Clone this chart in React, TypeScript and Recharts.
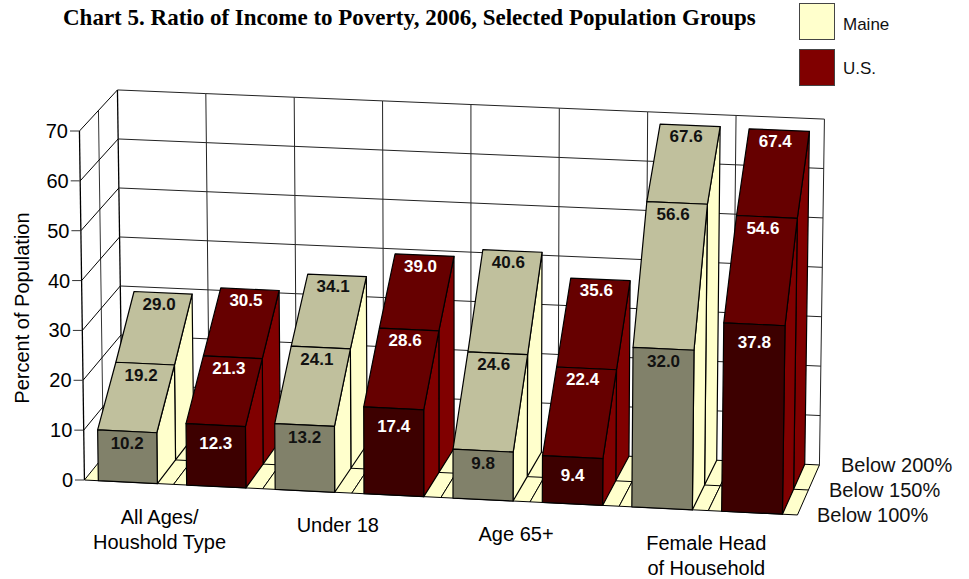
import { BarChart, Bar, XAxis, YAxis, Legend } from 'recharts';

const cells = ['Maine All', 'US All', 'Maine 18', 'US 18', 'Maine 65', 'US 65', 'Maine FHH', 'US FHH'];
const below100 = [10.2, 12.3, 13.2, 17.4, 9.8, 9.4, 32.0, 37.8];
const below150 = [19.2, 21.3, 24.1, 28.6, 24.6, 22.4, 56.6, 54.6];
const below200 = [29.0, 30.5, 34.1, 39.0, 40.6, 35.6, 67.6, 67.4];
const wallTop = [70, 70, 70, 70, 70, 70, 70, 70];
const yTicks = [0, 10, 20, 30, 40, 50, 60, 70];
const groupLines = [['All Ages/', 'Houshold Type'], ['Under 18'], ['Age 65+'], ['Female Head', 'of Household']];
const depthLabels = ['Below 100%', 'Below 150%', 'Below 200%'];
const states = ['Maine', 'U.S.'];

const data = cells.map((cell, i) => ({
    cell,
    wall: wallTop[i],
    below100: below100[i],
    below150: below150[i],
    below200: below200[i],
}));

const FONT = '"Liberation Sans", Arial, sans-serif';
const LEFT = 84;
const RIGHT = 797;
const BASE = 480;
const BAND = (RIGHT - LEFT) / cells.length;

const maineColors = { front: '#81816A', ramp: '#C0C09D', side: '#FFFFCC', text: '#111' };
const usColors = { front: '#3D0000', ramp: '#660000', side: '#800000', text: '#fff' };
const colorsFor = (i: number) => (i % 2 === 0 ? maineColors : usColors);

// oblique view: x on the front floor edge, d rows back, h pixels above the floor
function proj(x: number, d: number, h: number): [number, number] {
    const f = (x - LEFT) / (RIGHT - LEFT);
    const px = x + d * (19 - 8 * f) + (f - 0.5) * 0.0286 * h;
    const py = BASE + 0.049 * (x - LEFT) - d * (23.5 + 1.5 * f) - h * (1 - d * (0.0085 - 0.004 * f));
    return [px, py];
}

// the source's bars sit a little left of the band centre mid-chart and widen to the right
function faceEdges(x: number, width: number): [number, number] {
    const f = (x - LEFT) / (RIGHT - LEFT);
    const bow = 8 * f * (1 - f);
    return [x - 0.5 - bow, x + width - 1.5 + 2 * f - bow];
}

const pts = (list: [number, number][]) => list.map((p) => p.join(',')).join(' ');

function Seg({ a, b, width = 1, color = '#000' }: any) {
    return <line x1={a[0]} y1={a[1]} x2={b[0]} y2={b[1]} stroke={color} strokeWidth={width} />;
}

// one cell of floor and back wall per band, side wall with the first band
function WallCell(props: any) {
    const { x, width, height, index } = props;
    const x0 = x - (BAND - width) / 2;
    const x1 = x0 + BAND;
    const unit = height / 70;
    return (
        <g>
            <polygon
                points={pts([proj(x0, 0, 0), proj(x1, 0, 0), proj(x1, 2, 0), proj(x0, 2, 0)])}
                fill="#FFFFCC"
                stroke="#000"
                strokeWidth={1}
            />
            <Seg a={proj(x0, 1, 0)} b={proj(x1, 1, 0)} />
            <Seg a={proj(x1, 2, 0)} b={proj(x1, 2, height)} color="#222" />
            {index === 0 && <Seg a={proj(x0, 2, 0)} b={proj(x0, 2, height)} width={1.3} />}
            {yTicks.slice(1).map((t) => (
                <Seg key={t} a={proj(x0, 2, t * unit)} b={proj(x1, 2, t * unit)} color="#222" />
            ))}
            {index === 0 && (
                <g>
                    <Seg a={proj(x0, 0, 0)} b={proj(x0, 0, height)} width={1.3} />
                    <Seg a={proj(x0, 1, 0)} b={proj(x0, 1, height)} color="#333" />
                    {yTicks.slice(1).map((t) => (
                        <Seg key={t} a={proj(x0, 0, t * unit)} b={proj(x0, 2, t * unit)} />
                    ))}
                </g>
            )}
        </g>
    );
}

function ValueLabel({ x, y, value, color }: any) {
    return (
        <text x={x} y={y} dy={6} textAnchor="middle" fontFamily={FONT} fontWeight="bold" fontSize={17} fill={color}>
            {value.toFixed(1)}
        </text>
    );
}

// sloped ramp + side wall between two rows; d is the row of the front edge
function Ramp(props: any) {
    const { x, width, height, value, index, payload, d, prevKey } = props;
    const c = colorsFor(index);
    const hPrev = (height / value) * payload[prevKey];
    const [x1, x2] = faceEdges(x, width);
    const top = proj(x1, d + 1, height);
    const topR = proj(x2, d + 1, height);
    return (
        <g stroke="#000" strokeWidth={1.2} strokeLinejoin="round">
            <polygon
                points={pts([proj(x2, d, 0), proj(x2, d, hPrev), topR, proj(x2, d + 1, 0)])}
                fill={c.side}
            />
            <polygon points={pts([proj(x1, d, hPrev), proj(x2, d, hPrev), topR, top])} fill={c.ramp} />
            <g stroke="none">
                <ValueLabel x={(top[0] + topR[0]) / 2 - 4} y={(top[1] + topR[1]) / 2 + 11} value={value} color={c.text} />
            </g>
        </g>
    );
}

function FrontFace(props: any) {
    const { x, width, height, value, index } = props;
    const c = colorsFor(index);
    const [x1, x2] = faceEdges(x, width);
    const top = proj(x1, 0, height);
    const topR = proj(x2, 0, height);
    return (
        <g stroke="#000" strokeWidth={1.2} strokeLinejoin="round">
            <polygon points={pts([proj(x1, 0, 0), proj(x2, 0, 0), topR, top])} fill={c.front} />
            <g stroke="none">
                <ValueLabel
                    x={(top[0] + topR[0]) / 2}
                    y={(top[1] + topR[1]) / 2 + (index % 2 === 0 ? 12 : 18)}
                    value={value}
                    color={c.text}
                />
            </g>
        </g>
    );
}

function YTick({ y, payload }: any) {
    const h = BASE - y;
    const p = proj(LEFT, 0, h);
    return (
        <g>
            <line x1={p[0] - 9} y1={p[1]} x2={p[0]} y2={p[1]} stroke="#333" strokeWidth={1} />
            <text x={p[0] - 11} y={p[1]} dy={7} textAnchor="end" fontFamily={FONT} fontSize={20} fill="#000">
                {payload.value}
            </text>
        </g>
    );
}

function XTick({ x, index }: any) {
    if (index % 2 !== 0) return null;
    const lines = groupLines[index / 2];
    const cx = x + (index === 6 ? 43 : 31);
    const y = proj(cx, 0, 0)[1] + 40;
    return (
        <text textAnchor="middle" fontFamily={FONT} fontSize={20} fill="#000">
            {lines.map((line, i) => (
                <tspan key={line} x={cx} y={y + i * 25}>
                    {line}
                </tspan>
            ))}
        </text>
    );
}

function StateLegend() {
    return (
        <div style={{ fontFamily: FONT, fontSize: 17, color: '#111' }}>
            {states.map((s, i) => (
                <div key={s} style={{ position: 'absolute', left: 0, top: i * 46, width: 120, height: 36 }}>
                    <div
                        style={{
                            position: 'absolute',
                            left: 0,
                            top: 0,
                            width: 34,
                            height: 35,
                            background: i === 0 ? '#FFFFCC' : '#800000',
                            border: '1px solid #444',
                        }}
                    />
                    <span style={{ position: 'absolute', left: 44, top: i === 0 ? 12 : 10 }}>{s}</span>
                </div>
            ))}
        </div>
    );
}

export default function App() {
    return (
        <div style={{ position: 'absolute', left: 0, top: 0, width: 969, height: 579 }}>
            <BarChart
                width={969}
                height={579}
                data={data}
                barSize={60}
                barGap={-60}
                margin={{ left: 24, right: 172, top: 131, bottom: 49 }}
            >
                <XAxis
                    dataKey="cell"
                    height={50}
                    axisLine={false}
                    tickLine={false}
                    interval={0}
                    tick={<XTick />}
                />
                <YAxis
                    width={60}
                    domain={[0, 70]}
                    ticks={yTicks}
                    axisLine={false}
                    tickLine={false}
                    tick={<YTick />}
                />
                <Legend
                    layout="vertical"
                    align="center"
                    verticalAlign="middle"
                    wrapperStyle={{ left: 799, top: 3, width: 130, height: 90 }}
                    content={<StateLegend />}
                />
                <Bar dataKey="wall" isAnimationActive={false} shape={<WallCell />} />
                <Bar dataKey="below200" isAnimationActive={false} shape={<Ramp d={1} prevKey="below150" />} />
                <Bar dataKey="below150" isAnimationActive={false} shape={<Ramp d={0} prevKey="below100" />} />
                <Bar dataKey="below100" isAnimationActive={false} shape={<FrontFace />} />
                <text x={63} y={25} fontFamily='"Liberation Serif", "Times New Roman", serif' fontWeight="bold" fontSize={23} fill="#000">
                    Chart 5. Ratio of Income to Poverty, 2006, Selected Population Groups
                </text>
                <text
                    transform="translate(29 308) rotate(-90)"
                    textAnchor="middle"
                    fontFamily={FONT}
                    fontSize={20}
                    fill="#000"
                >
                    Percent of Population
                </text>
                {depthLabels.map((label, i) => (
                    <text key={label} x={817 + i * 12} y={522 - i * 25} fontFamily={FONT} fontSize={20} fill="#111">
                        {label}
                    </text>
                ))}
            </BarChart>
        </div>
    );
}
